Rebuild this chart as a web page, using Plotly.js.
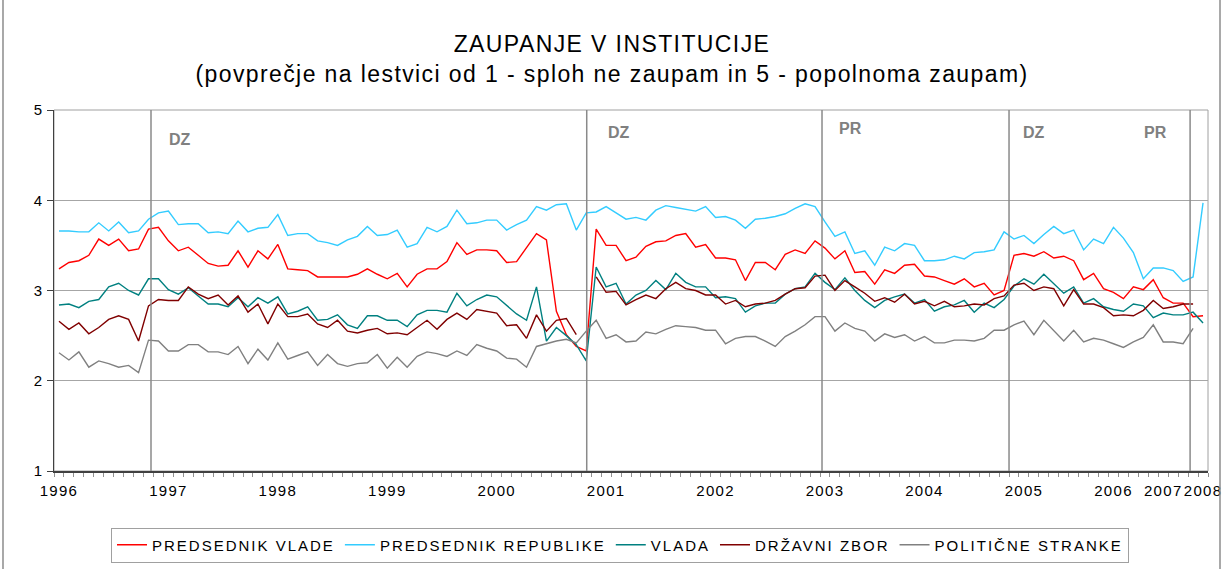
<!DOCTYPE html>
<html>
<head>
<meta charset="utf-8">
<script src="https://cdn.plot.ly/plotly-3.0.1.min.js"></script>
<style>
  html, body { margin: 0; padding: 0; background: #fff; }
  #chart { width: 1224px; height: 569px; }
  /* the reference text is rendered horizontally wide */
  .legendtext { letter-spacing: 2px; }
  .gtitle { letter-spacing: 1.4px; }
  .xtick text, .ytick text { letter-spacing: 1.3px; }
</style>
</head>
<body>
<div id="chart"></div>
<script>
// ---- data (one value per survey wave, in order) ----
const seriesNames = ["PREDSEDNIK VLADE", "PREDSEDNIK REPUBLIKE", "VLADA", "DRŽAVNI ZBOR", "POLITIČNE STRANKE"];

const predsednikVlade = [
  3.24, 3.31, 3.33, 3.39, 3.57, 3.50, 3.57, 3.44, 3.46, 3.68, 3.70, 3.55, 3.44, 3.48, 3.39, 3.30, 3.27, 3.28, 3.44, 3.26, 3.44,
  3.35, 3.51, 3.24, 3.23, 3.22, 3.15, 3.15, 3.15, 3.15, 3.18, 3.24, 3.18, 3.13, 3.19, 3.04, 3.18, 3.24, 3.24, 3.32, 3.53,
  3.40, 3.45, 3.45, 3.44, 3.31, 3.32, 3.47, 3.63, 3.56, 2.77, 2.51, 2.38, 2.33, 3.68, 3.50, 3.50, 3.33, 3.37, 3.49, 3.54, 3.55,
  3.61, 3.63, 3.48, 3.51, 3.36, 3.36, 3.34, 3.11, 3.31, 3.31, 3.23, 3.40, 3.45, 3.41, 3.55, 3.47, 3.35, 3.44, 3.20, 3.21, 3.07,
  3.23, 3.19, 3.28, 3.29, 3.16, 3.15, 3.11, 3.07, 3.13, 3.04, 3.08, 2.95, 3.00, 3.39, 3.41, 3.38, 3.43, 3.36, 3.38, 3.33,
  3.12, 3.19, 3.02, 2.98, 2.91, 3.04, 3.01, 3.12, 2.92, 2.86, 2.86, 2.71, 2.72
];
const predsednikRepublike = [
  3.66, 3.66, 3.65, 3.65, 3.75, 3.66, 3.76, 3.64, 3.66, 3.79, 3.86, 3.88, 3.73, 3.74, 3.74, 3.64, 3.65, 3.63, 3.77, 3.65, 3.69,
  3.70, 3.84, 3.61, 3.63, 3.63, 3.55, 3.53, 3.50, 3.56, 3.60, 3.71, 3.61, 3.62, 3.67, 3.48, 3.52, 3.70, 3.65, 3.71, 3.89,
  3.74, 3.75, 3.78, 3.78, 3.67, 3.73, 3.78, 3.93, 3.89, 3.95, 3.96, 3.67, 3.86, 3.87, 3.93, 3.86, 3.79, 3.81, 3.78, 3.89, 3.94,
  3.92, 3.90, 3.88, 3.93, 3.81, 3.82, 3.78, 3.69, 3.79, 3.80, 3.82, 3.85, 3.91, 3.96, 3.93, 3.76, 3.60, 3.65, 3.41, 3.44, 3.28,
  3.48, 3.44, 3.52, 3.50, 3.33, 3.33, 3.34, 3.38, 3.35, 3.42, 3.43, 3.45, 3.65, 3.57, 3.61, 3.52, 3.62, 3.71, 3.63, 3.67,
  3.45, 3.57, 3.52, 3.70, 3.58, 3.42, 3.13, 3.25, 3.25, 3.22, 3.10, 3.15, 3.97
];
const vlada = [
  2.84, 2.85, 2.81, 2.88, 2.90, 3.04, 3.08, 3.00, 2.95, 3.13, 3.13, 3.01, 2.96, 3.03, 2.94, 2.85, 2.85, 2.82, 2.92, 2.82, 2.92,
  2.86, 2.93, 2.74, 2.77, 2.82, 2.67, 2.68, 2.73, 2.62, 2.58, 2.72, 2.72, 2.67, 2.67, 2.60, 2.73, 2.78, 2.78, 2.76, 2.97,
  2.83, 2.90, 2.95, 2.93, 2.84, 2.74, 2.67, 3.04, 2.44, 2.59, 2.50, 2.40, 2.22, 3.26, 3.04, 3.08, 2.85, 2.95, 3.00, 3.11, 3.01,
  3.19, 3.09, 3.04, 3.04, 2.92, 2.93, 2.91, 2.76, 2.83, 2.86, 2.86, 2.96, 3.02, 3.04, 3.19, 3.09, 3.01, 3.14, 3.00, 2.89, 2.81,
  2.89, 2.93, 2.96, 2.86, 2.90, 2.77, 2.82, 2.84, 2.89, 2.76, 2.86, 2.81, 2.90, 3.05, 3.13, 3.07, 3.18, 3.08, 2.97, 3.04,
  2.86, 2.91, 2.82, 2.79, 2.77, 2.85, 2.83, 2.70, 2.75, 2.73, 2.73, 2.76, 2.64
];
const drzavniZbor = [
  2.66, 2.57, 2.64, 2.52, 2.59, 2.68, 2.72, 2.68, 2.44, 2.83, 2.90, 2.89, 2.89, 3.04, 2.96, 2.91, 2.95, 2.84, 2.94, 2.76, 2.85,
  2.63, 2.85, 2.71, 2.71, 2.74, 2.63, 2.59, 2.67, 2.55, 2.53, 2.56, 2.58, 2.52, 2.53, 2.51, 2.59, 2.67, 2.57, 2.68, 2.75,
  2.68, 2.79, 2.77, 2.75, 2.61, 2.62, 2.47, 2.73, 2.55, 2.67, 2.69, 2.51, null, 3.15, 2.98, 2.99, 2.84, 2.90, 2.95, 2.91, 3.02,
  3.09, 3.02, 3.00, 2.95, 2.95, 2.85, 2.89, 2.82, 2.85, 2.86, 2.89, 2.96, 3.02, 3.03, 3.16, 3.17, 3.00, 3.11, 3.04, 2.97, 2.88,
  2.92, 2.87, 2.96, 2.85, 2.88, 2.83, 2.88, 2.82, 2.83, 2.85, 2.84, 2.91, 2.94, 3.06, 3.08, 3.00, 3.04, 3.02, 2.83, 3.01,
  2.85, 2.85, 2.81, 2.72, 2.73, 2.72, 2.78, 2.89, 2.80, 2.82, 2.85, 2.85, null
];
const politicneStranke = [
  2.31, 2.23, 2.32, 2.15, 2.22, 2.19, 2.15, 2.17, 2.09, 2.45, 2.44, 2.33, 2.33, 2.40, 2.40, 2.32, 2.32, 2.29, 2.38, 2.19, 2.35,
  2.23, 2.42, 2.24, 2.28, 2.32, 2.17, 2.29, 2.19, 2.16, 2.19, 2.20, 2.29, 2.14, 2.26, 2.15, 2.27, 2.32, 2.30, 2.27, 2.33,
  2.28, 2.40, 2.36, 2.33, 2.25, 2.24, 2.15, 2.38, 2.41, 2.44, 2.46, 2.42, 2.55, 2.67, 2.47, 2.51, 2.43, 2.44, 2.54, 2.52, 2.57,
  2.61, 2.60, 2.59, 2.56, 2.56, 2.41, 2.47, 2.49, 2.49, 2.44, 2.38, 2.49, 2.55, 2.62, 2.71, 2.71, 2.55, 2.64, 2.58, 2.55, 2.44,
  2.52, 2.48, 2.51, 2.44, 2.49, 2.42, 2.42, 2.45, 2.45, 2.44, 2.47, 2.56, 2.56, 2.62, 2.66, 2.51, 2.67, 2.55, 2.44, 2.56,
  2.43, 2.47, 2.45, 2.41, 2.37, 2.43, 2.48, 2.62, 2.43, 2.43, 2.41, 2.58, null
];

// tick labels: year and the survey wave (position in the series) where that year starts
const yearLabels = ["1996", "1997", "1998", "1999", "2000", "2001", "2002", "2003", "2004", "2005", "2006", "2007", "2008"];
const yearStartWave = [0, 11, 22, 33, 44, 55, 66, 77, 87, 97, 106, 111, 115];

// elections (DZ = parliament, PR = president), as position in the wave sequence
const eventLabels = ["DZ", "DZ", "PR", "DZ", "PR"];
const eventWave = [9.25, 53.05, 76.7, 95.5, 113.7];

// ---- styles ----
const colors = ["#ff0000", "#33ccff", "#008080", "#800000", "#808080"];
const eventLabelY = [4.67, 4.75, 4.80, 4.75, 4.75];
const eventLabelShift = [29, 32, 28, 25, -35];
const FONT = "'Liberation Sans', Arial, sans-serif";

const seriesValues = [predsednikVlade, predsednikRepublike, vlada, drzavniZbor, politicneStranke];
const traces = seriesValues.map((vals, k) => ({
  type: "scatter",
  mode: "lines",
  name: seriesNames[k],
  y: vals,
  line: { color: colors[k], width: 1.4 },
  connectgaps: false,
  hoverinfo: "y+name"
}));

const shapes = [
  // plot area border
  { type: "rect", xref: "paper", yref: "paper", x0: 0, x1: 1, y0: 0, y1: 1,
    line: { color: "#a0a0a0", width: 1 }, layer: "below" },
  // outer chart frame (left / right)
  { type: "line", xref: "paper", yref: "paper", x0: -0.0442, x1: -0.0442, y0: -0.28, y1: 1.31,
    line: { color: "#8c8c8c", width: 1.5 } },
  { type: "line", xref: "paper", yref: "paper", x0: 1.0104, x1: 1.0104, y0: -0.28, y1: 1.31,
    line: { color: "#8c8c8c", width: 1.5 } }
];
eventWave.forEach(w => shapes.push({
  type: "line", xref: "x", yref: "paper", x0: w, x1: w, y0: 0, y1: 1,
  line: { color: "#8a8a8a", width: 1.5 }
}));

const annotations = eventLabels.map((t, i) => ({
  x: eventWave[i], y: eventLabelY[i], xref: "x", yref: "y",
  text: "<b>" + t + "</b>", showarrow: false, xshift: eventLabelShift[i],
  xanchor: "center", yanchor: "middle",
  font: { family: FONT, size: 16, color: "#808080" }
}));

const layout = {
  width: 1224, height: 569,
  paper_bgcolor: "#ffffff", plot_bgcolor: "#ffffff",
  margin: { l: 54, r: 16, t: 110, b: 98, pad: 0 },
  font: { family: FONT, color: "#000000" },
  title: {
    text: "ZAUPANJE V INSTITUCIJE<br>(povprečje na lestvici od 1 - sploh ne zaupam in 5 - popolnoma zaupam)",
    font: { family: FONT, size: 23, color: "#000000" },
    x: 0.5, xref: "container", xanchor: "center",
    y: 1 - 52 / 569, yref: "container", yanchor: "middle"
  },
  xaxis: {
    range: [-0.5, 115.5],
    tickmode: "array", tickvals: yearStartWave, ticktext: yearLabels,
    ticks: "", showgrid: false, zeroline: false,
    showline: true, linecolor: "#404040", linewidth: 1.5,
    ticklabelstandoff: 5,
    tickfont: { family: FONT, size: 15, color: "#000000" },
    minor: { tickmode: "linear", tick0: -0.5, dtick: 1, ticks: "outside", ticklen: 4,
             tickcolor: "#909090", showgrid: false },
    fixedrange: true
  },
  yaxis: {
    range: [1, 5], tickmode: "linear", tick0: 1, dtick: 1,
    showgrid: true, gridcolor: "#a6a6a6", gridwidth: 1, zeroline: false,
    showline: true, linecolor: "#404040", linewidth: 1.5,
    ticks: "outside", ticklen: 6, tickcolor: "#404040",
    tickfont: { family: FONT, size: 15, color: "#000000" },
    fixedrange: true
  },
  showlegend: true,
  legend: {
    orientation: "h",
    xref: "container", yref: "container",
    x: 620 / 1224, xanchor: "center",
    y: 1 - 545 / 569, yanchor: "middle",
    bordercolor: "#a0a0a0", borderwidth: 1, bgcolor: "#ffffff",
    font: { family: FONT, size: 15, color: "#000000" },
    itemwidth: 30, tracegroupgap: 0
  },
  shapes: shapes,
  annotations: annotations
};

Plotly.newPlot("chart", traces, layout, { displayModeBar: false, staticPlot: true });
</script>
</body>
</html>
